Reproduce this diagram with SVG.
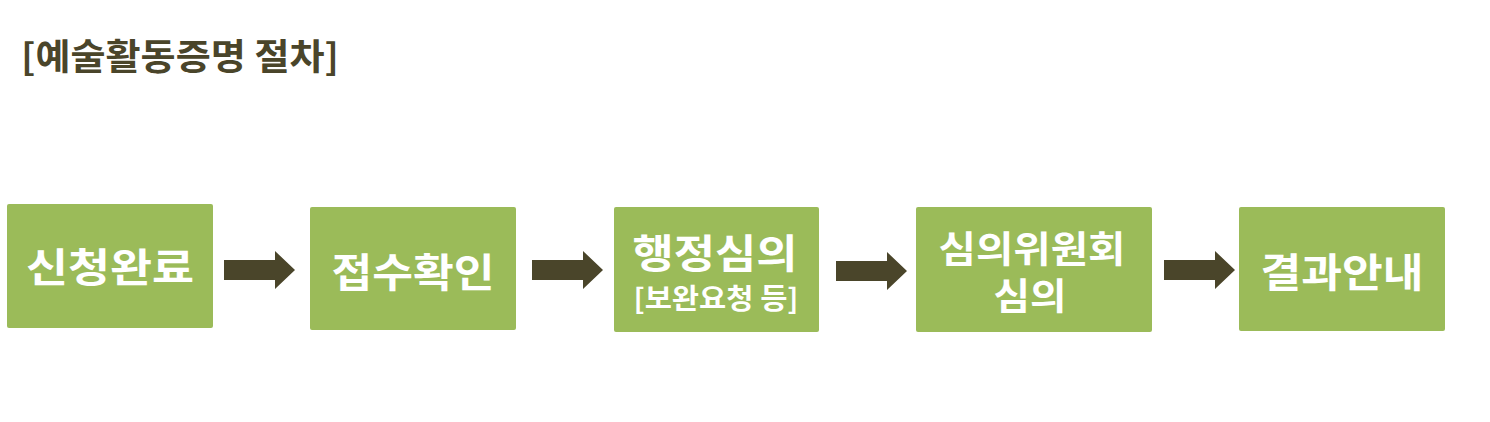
<svg xmlns="http://www.w3.org/2000/svg" width="1490" height="422" viewBox="0 0 1490 422">
<defs>
<style>
.box{fill:#9BBB59;}
.lbl{fill:#FFFFFF;font-family:"Noto Sans CJK KR","Noto Sans",sans-serif;font-weight:bold;text-anchor:middle;}
.title{fill:#4A452A;font-family:"Noto Sans CJK KR","Noto Sans",sans-serif;font-weight:bold;font-size:36px;}
.arrow{fill:#4A452A;}
</style>
<path id="arr" class="arrow" d="M0,-10 L51,-10 L51,-19 L71,0 L51,19 L51,10 L0,10 Z"/>
</defs>
<rect width="1490" height="422" fill="#FFFFFF"/>
<text class="title" x="21" y="70" textLength="318" lengthAdjust="spacingAndGlyphs">[예술활동증명 절차]</text>
<g id="node1">
<rect class="box" x="7" y="204" width="206" height="124" rx="2"/>
<text class="lbl" x="110" y="282" font-size="40" textLength="168" lengthAdjust="spacingAndGlyphs">신청완료</text>
</g>
<g id="node2">
<rect class="box" x="310" y="207" width="206" height="123" rx="2"/>
<text class="lbl" x="413" y="287" font-size="40" textLength="163" lengthAdjust="spacingAndGlyphs">접수확인</text>
</g>
<g id="node3">
<rect class="box" x="614" y="207" width="205" height="125" rx="2"/>
<text class="lbl" x="715" y="268" font-size="40" textLength="165" lengthAdjust="spacingAndGlyphs">행정심의</text>
<text class="lbl" x="716" y="309" font-size="28" textLength="165" lengthAdjust="spacingAndGlyphs">[보완요청 등]</text>
</g>
<g id="node4">
<rect class="box" x="916" y="207" width="236" height="125" rx="2"/>
<text class="lbl" x="1032" y="263" font-size="37" textLength="187" lengthAdjust="spacingAndGlyphs">심의위원회</text>
<text class="lbl" x="1030" y="310" font-size="37" textLength="73" lengthAdjust="spacingAndGlyphs">심의</text>
</g>
<g id="node5">
<rect class="box" x="1239" y="207" width="206" height="124" rx="2"/>
<text class="lbl" x="1342" y="287" font-size="40" textLength="163" lengthAdjust="spacingAndGlyphs">결과안내</text>
</g>
<g id="connectors">
<use href="#arr" x="224" y="270"/>
<use href="#arr" x="532" y="270"/>
<use href="#arr" x="836" y="271"/>
<use href="#arr" x="1164" y="270"/>
</g>
</svg>
